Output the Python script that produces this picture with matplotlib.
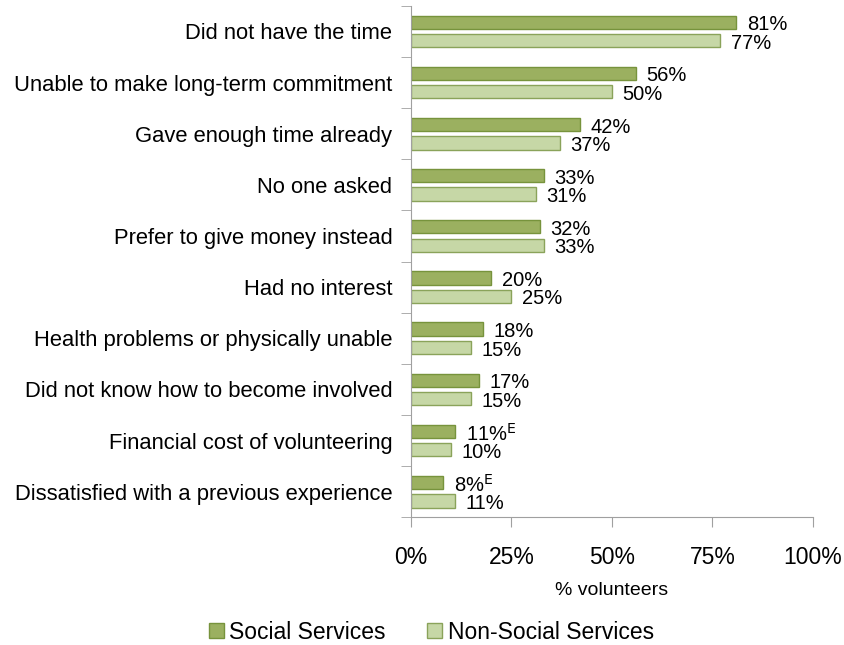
import numpy as np
import matplotlib.pyplot as plt

plt.rcParams['font.family'] = ['Liberation Sans', 'DejaVu Sans']

categories = ['Did not have the time', 'Unable to make long-term commitment',
              'Gave enough time already', 'No one asked', 'Prefer to give money instead',
              'Had no interest', 'Health problems or physically unable',
              'Did not know how to become involved', 'Financial cost of volunteering',
              'Dissatisfied with a previous experience']
social = [81, 56, 42, 33, 32, 20, 18, 17, 11, 8]
non_social = [77, 50, 37, 31, 33, 25, 15, 15, 10, 11]
social_flags = ['', '', '', '', '', '', '', '', 'E', 'E']

fig = plt.figure(figsize=(8.44, 6.45), dpi=100)
ax = fig.add_axes([0.487, 0.198, 0.476, 0.793])

y = np.arange(len(categories))
h = 0.26
ax.barh(y - 0.18, social, height=h, color='#9bb060', edgecolor='#77933c', linewidth=1,
        label='Social Services')
ax.barh(y + 0.18, non_social, height=h, color='#c6d7a6', edgecolor='#8aa35a', linewidth=1,
        label='Non-Social Services')

for i in range(len(categories)):
    s = f'{social[i]}%'
    if social_flags[i]:
        s += r'$^{\mathrm{' + social_flags[i] + '}}$'
    ax.text(social[i] + 2.6, y[i] - 0.13, s, va='center', ha='left', fontsize=14.5)
    ax.text(non_social[i] + 2.6, y[i] + 0.23, f'{non_social[i]}%', va='center', ha='left',
            fontsize=14.5)

ax.set_ylim(len(categories) - 0.5, -0.5)
ax.set_xlim(0, 100)
ax.set_yticks(y)
ax.set_yticklabels(categories, fontsize=15.8)
ax.set_yticks(np.arange(-0.5, len(categories)), minor=True)
ax.tick_params(axis='y', which='major', length=0, pad=13.5)
ax.tick_params(axis='y', which='minor', length=7, color='#a0a0a0')
ax.set_xticks([0, 25, 50, 75, 100])
ax.set_xticklabels(['0%', '25%', '50%', '75%', '100%'], fontsize=16.5)
ax.tick_params(axis='x', length=7, color='#a0a0a0', pad=14)
ax.set_xlabel('% volunteers', fontsize=14, labelpad=9)

for sp in ['top', 'right']:
    ax.spines[sp].set_visible(False)
for sp in ['left', 'bottom']:
    ax.spines[sp].set_color('#a0a0a0')

fig.legend(loc='lower center', bbox_to_anchor=(0.511, -0.03), ncol=2, frameon=False,
           fontsize=16.5, handlelength=0.65, handleheight=0.65, handletextpad=0.25,
           columnspacing=1.8)

fig.savefig('out.png', dpi=100)
